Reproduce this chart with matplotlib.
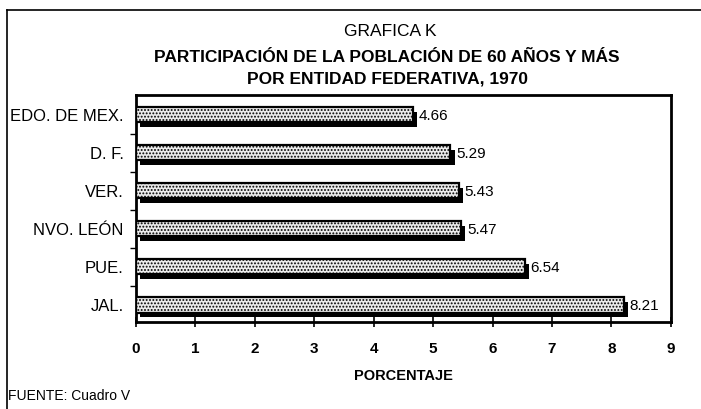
import matplotlib
matplotlib.use("Agg")
import matplotlib.pyplot as plt
import numpy as np

categories = ["JAL.", "PUE.", "NVO. LEÓN", "VER.", "D. F.", "EDO. DE MEX."]
values = [8.21, 6.54, 5.47, 5.43, 5.29, 4.66]
value_labels = ["8.21", "6.54", "5.47", "5.43", "5.29", "4.66"]
xticks = [0, 1, 2, 3, 4, 5, 6, 7, 8, 9]

plt.rcParams['font.family'] = ['Liberation Sans', 'DejaVu Sans']
plt.rcParams['hatch.color'] = '#8a8a8a'
plt.rcParams['hatch.linewidth'] = 0.9

fig = plt.figure(figsize=(7.01, 4.09), dpi=100)
ax = fig.add_axes([0.194, 0.2127, 0.763, 0.555])

y = np.arange(len(categories))
h = 0.40
dx = 0.07
dy = 0.12
# shadow
ax.barh(y - dy, values, left=dx, height=h, color='black', zorder=2)
# face
ax.barh(y, values, height=h, facecolor='#ebebeb', edgecolor='black',
        linewidth=1.6, hatch='.....', zorder=3)

for yi, v, lab in zip(y, values, value_labels):
    ax.text(v + dx + 0.03, yi - 0.04, lab, va='center', ha='left', fontsize=11, zorder=4)

ax.set_xlim(0, 9)
ax.set_ylim(-0.45, 5.52)
ax.set_xticks(xticks)
ax.set_xticklabels([str(t) for t in xticks], fontsize=11, fontweight='bold')
ax.tick_params(axis='x', direction='inout', length=7, width=1.2, pad=11)
ax.set_yticks(y)
ax.set_yticklabels(categories, fontsize=12)
ax.tick_params(axis='y', length=0, pad=9)
ax.set_yticks(y[:-1] + 0.5, minor=True)
ax.tick_params(axis='y', which='minor', direction='out', length=4, width=1)
for s in ax.spines.values():
    s.set_linewidth(2)
ax.set_xlabel("PORCENTAJE", fontsize=10.5, fontweight='bold', labelpad=9)

fig.text(0.556, 0.924, "GRAFICA K", ha='center', va='center', fontsize=12.5)
fig.text(0.552, 0.860, "PARTICIPACIÓN DE LA POBLACIÓN DE 60 AÑOS Y MÁS",
         ha='center', va='center', fontsize=12.5, fontweight='bold')
fig.text(0.553, 0.807, "POR ENTIDAD FEDERATIVA, 1970",
         ha='center', va='center', fontsize=12.5, fontweight='bold')
fig.text(0.012, 0.032, "FUENTE: Cuadro V", ha='left', va='center', fontsize=10)

# outer frame (left and top edges)
fig.add_artist(plt.Line2D([0.010, 0.010], [0.0, 0.976], color='black', lw=1.2, transform=fig.transFigure))
fig.add_artist(plt.Line2D([0.010, 1.0], [0.976, 0.976], color='black', lw=1.2, transform=fig.transFigure))

fig.savefig("out.png", dpi=100)
